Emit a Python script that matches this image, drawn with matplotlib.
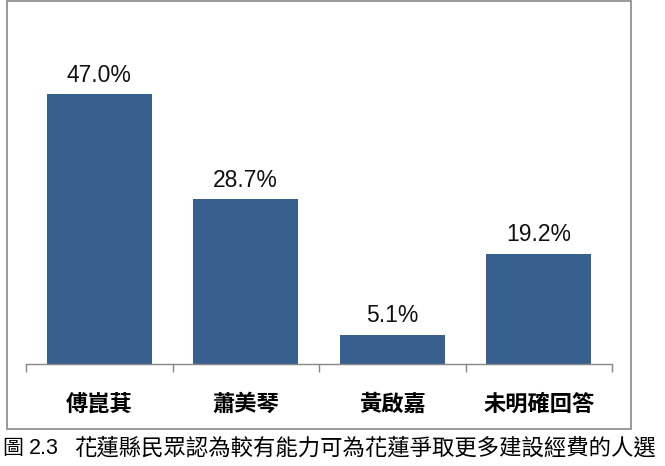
import matplotlib.pyplot as plt
from matplotlib.patches import Rectangle

# data
candidates = ["傅崑萁", "蕭美琴", "黃啟嘉", "未明確回答"]
shares = [47.0, 28.7, 5.1, 19.2]
value_labels = ["47.0%", "28.7%", "5.1%", "19.2%"]
caption_no = "2.3"
caption_text = "花蓮縣民眾認為較有能力可為花蓮爭取更多建設經費的人選"

W, H = 665, 466
BAR_COLOR = "#37608F"
GRAY = "#878787"
CJK = ["Noto Sans CJK TC", "DejaVu Sans"]

fig = plt.figure(figsize=(W / 100, H / 100), dpi=100)

# plot area in pixels: x 26..612, axis line at y=364, top at y=40
ax = fig.add_axes([26 / W, (H - 364) / H, (612 - 26) / W, (364 - 40) / H])
x = list(range(len(candidates)))
ax.bar(x, shares, width=0.717, color=BAR_COLOR)
ax.set_xlim(-0.5, len(candidates) - 0.5)
ax.set_ylim(0, 56.4)

for xi, v, lab in zip(x, shares, value_labels):
    ax.annotate(lab, (xi, v), xytext=(0, 13.5), textcoords="offset points",
                ha="center", va="center", fontsize=16.5,
                family=["Liberation Sans", "DejaVu Sans"], color="#111111")

for side in ["top", "right", "left"]:
    ax.spines[side].set_visible(False)
ax.spines["bottom"].set_color(GRAY)
ax.spines["bottom"].set_linewidth(1.0)
ax.set_yticks([])

ax.set_xticks(x)
ax.set_xticklabels(candidates, family=CJK, fontsize=16, fontweight="bold")
ax.tick_params(axis="x", which="major", length=0, pad=20.5)
ax.set_xticks([i - 0.5 for i in range(len(candidates) + 1)], minor=True)
ax.tick_params(axis="x", which="minor", length=5.8, width=1.0, color=GRAY)

# border box around the chart
fig.patches.append(Rectangle((7 / W, (H - 429) / H), 624 / W, 428.5 / H,
                             transform=fig.transFigure, fill=False,
                             edgecolor=GRAY, linewidth=1.2))

# caption under the box
cy = (H - 448) / H
fig.text(2 / W, cy, "圖", family=CJK, fontsize=15, va="center", ha="left")
fig.text(29 / W, cy, caption_no, family=["Liberation Sans", "DejaVu Sans"],
         fontsize=15.5, va="center", ha="left")
fig.text(74 / W, cy, caption_text, family=CJK, fontsize=16.1,
         va="center", ha="left")

fig.savefig("out.png", dpi=100)
